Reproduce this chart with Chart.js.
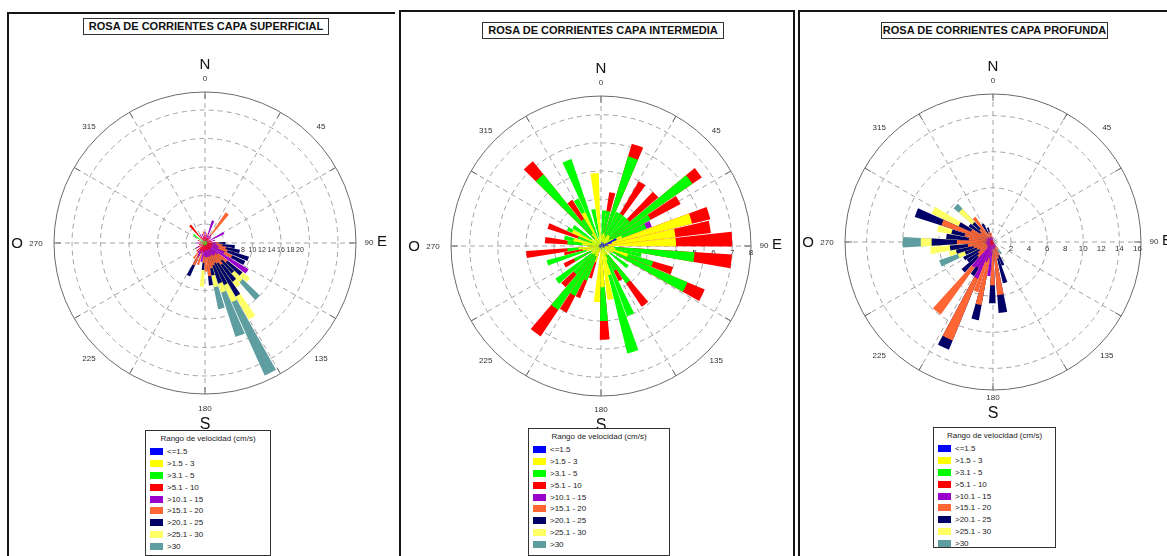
<!DOCTYPE html>
<html lang="es">
<head>
<meta charset="UTF-8">
<title>Rosas de corrientes</title>
<script src="https://cdn.jsdelivr.net/npm/chart.js"></script>
<style>
  *{box-sizing:border-box}
  body{margin:0;width:1167px;height:556px;overflow:hidden;position:relative;background:#fff;font-family:'Liberation Sans',Arial,sans-serif;color:#111}
  .panel{position:absolute;border:2px solid #151515}
  .title{position:absolute;border:1px solid #333;font-weight:bold;font-size:11px;line-height:15px;text-align:center;white-space:nowrap;background:#fff}
  canvas{position:absolute}
  .legend{position:absolute;border:1px solid #333;font-size:8px;background:#fff;color:#222}
  .legend h4{margin:3px 0 3px;font-size:8px;font-weight:normal;text-align:center}
  .legend div{display:flex;align-items:center;height:11.8px;padding-left:4px}
  .legend span{display:inline-block;width:13px;height:7px;margin-right:4px}
</style>
</head>
<body>
  <div class="panel" style="left:7px;top:12px;width:388px;height:600px;border-right:none"></div>
  <div class="panel" style="left:399px;top:10px;width:396px;height:600px"></div>
  <div class="panel" style="left:798px;top:10px;width:420px;height:600px"></div>

  <div class="title" style="left:83px;top:18px;width:246px;height:17px">ROSA DE CORRIENTES CAPA SUPERFICIAL</div>
  <div class="title" style="left:482px;top:22px;width:242px;height:17px">ROSA DE CORRIENTES CAPA INTERMEDIA</div>
  <div class="title" style="left:881px;top:22px;width:227px;height:17px">ROSA DE CORRIENTES CAPA PROFUNDA</div>

  <canvas id="sup" width="400" height="400" style="left:5px;top:43px"></canvas>
  <canvas id="mid" width="400" height="400" style="left:401px;top:46px"></canvas>
  <canvas id="deep" width="400" height="400" style="left:793px;top:42px"></canvas>

  <div class="legend" id="leg1" style="left:145px;top:430px;width:126px;height:126px"></div>
  <div class="legend" id="leg2" style="left:528px;top:428px;width:142px;height:128px"></div>
  <div class="legend" id="leg3" style="left:933px;top:427px;width:123px;height:121px"></div>

<script>
// velocity ranges (cm/s), stacked from the centre outwards
const binLabels = ['<=1.5', '>1.5 - 3', '>3.1 - 5', '>5.1 - 10', '>10.1 - 15', '>15.1 - 20', '>20.1 - 25', '>25.1 - 30', '>30'];
const binColors = ['#0000ff', '#ffff00', '#00ff00', '#ff0000', '#9900cc', '#ff6633', '#000066', '#ffff66', '#5f9ea0'];

// --- capa superficial ---
const supDirs   = [0, 10, 20, 28, 37, 47, 62, 75, 90, 97, 104, 110, 117, 124, 131, 136, 142, 148, 153, 159, 166, 172, 178, 184, 191, 198, 207, 216, 225, 240, 255, 270, 290, 306, 320, 330, 343, 352];
const supBlue   = [0, 0, 0, 0, 0, 0, 0, 0, 0, 0, 0, 0, 0, 0, 0, 0, 0, 0, 0, 0, 0, 0, 0, 0, 0, 0, 0, 0, 0, 0, 0, 0, 0, 0, 0, 0, 0, 0];
const supYellow = [.3, .2, .2, .2, .2, .2, .2, .2, .2, .2, .2, .2, .2, .2, .2, .2, .2, .2, .2, .2, .2, .2, .2, .2, .2, .2, .2, .2, .2, .2, .2, .3, .2, .2, .2, .2, .2, .2];
const supGreen  = [.4, .3, .3, .3, .3, .3, .3, .3, .3, .3, .3, .3, .3, .3, .3, .3, .3, .3, .3, .3, .3, .3, .3, .5, .3, .3, .3, .3, .3, .3, .3, .6, .8, 2.8, .3, .3, .3, .3];
const supRed    = [1, .7, .8, .6, .8, .7, .8, 1, 1, 1, 1, 1, 1, 1.2, 1, 1, 1.2, 1, 1, 1, 1, 1, 1, 1, 1.5, 1, 1.5, 1.2, 2, 1.2, .8, .5, .6, 0, 4.4, 1, .8, .5];
const supPurple = [.6, .5, 3.7, .5, .8, .6, 3.2, .7, .8, 1, 1.4, 1.5, 3, 9, 2, 1.5, 1.5, 1.5, 1.2, 1.5, 1.5, 1.5, 1.5, 1, 2, .8, 1.2, .8, 0, .5, 0, .5, 0, 0, 0, .5, .7, .5];
const supOrange = [0, .4, 0, .4, 5.7, 0, 0, 0, .6, 1.2, 1.6, 2, 1.8, 0, 2.5, 2, 2.5, 2, 2, 2, 2.5, 4, 3, 1.5, 0, 2.5, 2, 1.5, 0, 0, 0, 0, 0, 0, 0, 0, 0, 1];
const supNavy   = [0, 0, 0, 0, 0, 0, 0, 0, 1.4, 2.6, 3, 4.7, 3, 0, 4, 3.5, 4.3, 8, 5, 4, 1.5, 2, 0, 1.5, 0, 0, 2.5, 0, 0, 0, 0, 0, 0, 0, 0, 0, 0, 0];
const supCream  = [0, 0, 0, 0, 0, 0, 0, 0, 0, 0, 0, 0, 0, 0, 2, 2.5, 1.5, 5.6, 4, 2, 2.5, 0, 0, 3.5, 0, 0, 0, 0, 0, 0, 0, 0, 0, 0, 0, 0, 0, 0];
const supTeal   = [0, 0, 0, 0, 0, 0, 0, 0, 0, 0, 0, 0, 0, 0, 0, 5, 0, 0, 16.9, 9.8, 4.7, 0, 0, 0, 0, 0, 0, 0, 0, 0, 0, 0, 0, 0, 0, 0, 0, 0];
const supRings  = [4, 10, 16, 22, 28];
const supTicks  = [2, 4, 6, 8, 10, 12, 14, 16, 18, 20];

// --- capa intermedia ---
const midDirs   = [5, 12, 20, 27, 33, 40, 47, 53, 59, 66, 73, 80, 87, 97, 103, 109, 116, 128, 143, 150, 157, 163, 170, 178, 184, 199, 204, 210, 217, 224, 231, 242, 253, 258, 263, 276, 283, 291, 297, 305, 318, 325, 332, 338, 348, 355];
const midBlue   = [.2, .2, .2, .1, .2, .2, .2, .2, .2, .9, .6, .3, .4, .2, .2, .2, .2, .1, .1, 0, .1, .1, .1, .2, .1, .1, .1, .1, .1, .1, .1, .1, .1, .1, .1, .1, .1, .1, .1, .1, .1, .1, .1, .1, .1, .1];
const midYellow = [.4, .5, .4, .4, .5, .5, .4, .3, .5, .3, 4.4, 3.7, 3.6, .5, .6, 1.3, .5, .5, .5, .5, .7, 1.5, 2.8, 2, 2.9, .8, .5, .5, .4, .5, .5, .5, .7, .9, 1.1, .9, 1.4, .4, 1.6, .5, .4, .7, 1.9, .3, .4, 3.8];
const midGreen  = [1.3, 1.2, 4.4, 1.5, 1.3, 1.3, 1.4, 5.4, 2.3, 1.4, 0, 0, 0, 4.3, 1.4, 1.4, 4.3, 1.2, 1.8, 1, 3.2, 4.3, 0, 1.8, 0, 0, 1.4, 2.4, 3.6, 1.4, 2.4, 1, 2.2, 0, .6, .8, .5, .8, .3, 1.2, 4.4, .9, .8, 4.5, 1.5, 0];
const midRed    = [0, 1, .7, 0, 2, 0, 2, .6, 1.8, 0, 1, 1.9, 3, 2, 0, 1.1, 1, 0, 1.5, .6, 0, 0, 0, 1, 0, .9, 1, 1, 1.7, .9, 0, .6, 0, 1, 2.2, 1.2, 0, 1.7, 0, 0, .9, 1.2, 0, 0, 0, 0];
const midPurple = [0, 0, 0, 0, 0, 0, 0, 0, 0, .3, 0, 0, 0, 0, 0, 0, 0, 0, 0, 0, 0, 0, 0, 0, 0, 0, 0, 0, 0, 0, 0, 0, 0, 0, 0, 0, 0, 0, 0, 0, 0, 0, 0, 0, 0, 0];
const midRings  = [1, 2.5, 4, 5.5, 7];
const midTicks  = [1, 2, 3, 4, 5, 6, 7, 8];

// --- capa profunda ---
const deepDirs   = [145, 157, 163, 172, 181, 187, 193, 199, 205, 212, 219, 226, 233, 240, 248, 255, 262, 270, 277, 284, 291, 298, 306, 314, 322, 330, 340, 350, 358];
const deepRed    = [.3, .3, .3, .3, .3, .3, .4, .3, .4, .3, .5, .3, .3, .3, .3, .3, .3, .3, .3, .3, .3, .3, .3, .3, .3, .3, .3, .2, .2];
const deepPurple = [.3, .3, .4, .5, .4, 3.5, 1.5, 2, 4, 3, 3, .5, .5, .4, .4, .4, .5, .5, .4, .4, .5, .4, .4, .4, .3, .3, .3, .3, .3];
const deepOrange = [.4, 1, 1.2, 5.1, 4.1, 0, 5.2, 3.5, 7.4, 0, 6.4, 1.5, 1.2, 1, 1.2, 1.5, 2, 3.2, 2, 2.5, 5.2, 2, 1, 1.3, 2.8, .5, .6, .5, 0];
const deepNavy   = [0, 1.2, 2.8, 2, 2, 0, 1.7, 0, 1.1, 1, 0, 2.3, 1.5, 2, 1.4, 2, 2, 2.8, 2.5, 1.5, 3.1, 1.5, 1.5, 1, 0, 1.2, .5, 0, 0];
const deepCream  = [0, 0, 0, 0, 0, 0, 0, 0, 0, 0, 0, 0, 0, 0, .8, .8, 2.2, 1.2, 0, 1.6, 0, 3.3, 0, 2, 0, 0, 0, 0, 0];
const deepTeal   = [.6, 0, 0, 0, 0, 0, 0, 0, 0, 0, 0, 0, 0, 0, 2.2, 0, 0, 2, 0, 0, 0, 0, 0, .75, 0, 0, 0, 0, 0];
const deepRings  = [2, 6, 10, 14];
const deepTicks  = [2, 4, 6, 8, 10, 12, 14, 16];

const FONT = '"Liberation Sans", Arial, sans-serif';
const rad = d => d * Math.PI / 180;

// frame of the rose: dashed rings and spokes, outer circle, degree and compass labels
const roseFrame = {
  id: 'roseFrame',
  beforeDatasetsDraw(chart, args, o) {
    const s = chart.scales.r, ctx = chart.ctx;
    const cx = s.xCenter, cy = s.yCenter, R = s.drawingArea;
    ctx.save();
    ctx.strokeStyle = '#a3a3a3';
    ctx.lineWidth = 1;
    ctx.setLineDash([5, 4]);
    o.rings.forEach(v => {
      ctx.beginPath();
      ctx.arc(cx, cy, s.getDistanceFromCenterForValue(v), 0, 2 * Math.PI);
      ctx.stroke();
    });
    for (let a = 0; a < 360; a += 30) {
      ctx.beginPath();
      ctx.moveTo(cx, cy);
      ctx.lineTo(cx + R * Math.sin(rad(a)), cy - R * Math.cos(rad(a)));
      ctx.stroke();
    }
    ctx.setLineDash([]);
    ctx.strokeStyle = '#6a6a6a';
    ctx.beginPath();
    ctx.arc(cx, cy, R, 0, 2 * Math.PI);
    ctx.stroke();
    for (let a = 0; a < 360; a += 30) {
      const sn = Math.sin(rad(a)), cs = Math.cos(rad(a));
      ctx.beginPath();
      ctx.moveTo(cx + R * sn, cy - R * cs);
      ctx.lineTo(cx + (R - 7) * sn, cy - (R - 7) * cs);
      ctx.stroke();
    }
    // speed scale written along the east axis
    ctx.fillStyle = '#333';
    ctx.font = o.tickFont + 'px ' + FONT;
    ctx.textAlign = 'center';
    ctx.textBaseline = 'middle';
    o.ticks.forEach(v => ctx.fillText(String(v), cx + s.getDistanceFromCenterForValue(v), cy + 7));
    ctx.restore();
  },
  afterDraw(chart, args, o) {
    const s = chart.scales.r, ctx = chart.ctx;
    const cx = s.xCenter, cy = s.yCenter, R = s.drawingArea;
    const at = (deg, r) => [cx + r * Math.sin(rad(deg)), cy - r * Math.cos(rad(deg))];
    ctx.save();
    ctx.fillStyle = '#333';
    ctx.font = '8px ' + FONT;
    ctx.textAlign = 'center';
    ctx.textBaseline = 'middle';
    ctx.fillText('0', ...at(0, R + 13));
    [45, 135, 225, 315].forEach(d => ctx.fillText(String(d), ...at(d, R + 13)));
    ctx.fillText('180', ...at(180, R + o.sOff - 16));
    ctx.fillText('90', cx + R + 13, cy);
    ctx.fillText('270', cx - R - 18, cy + 1);
    ctx.fillStyle = '#111';
    ctx.font = '15px ' + FONT;
    ctx.fillText('N', cx, cy - R - 27);
    ctx.fillText('O', cx - R - 37, cy + 1);
    ctx.textAlign = 'left';
    ctx.fillText('E', cx + R + 21, cy - 1);
    ctx.textAlign = 'center';
    ctx.font = '16px ' + FONT;
    ctx.fillText('S', cx, cy + R + o.sOff);
    ctx.restore();
  }
};

function makeRose(id, dirs, bins, cfg) {
  const w = cfg.width, n = dirs.length;
  // each bar is w degrees wide, trimmed so that it never runs into its neighbours
  const spans = dirs.map((d, i) => {
    const prev = i > 0 ? dirs[i - 1] : dirs[n - 1] - 360;
    const next = i < n - 1 ? dirs[i + 1] : dirs[0] + 360;
    return [Math.max(d - w / 2, (prev + d) / 2 + 0.25), Math.min(d + w / 2, (d + next) / 2 - 0.25)];
  });
  const start = spans[0][0];
  const seq = [];
  let cursor = start;
  spans.forEach(([lo, hi], i) => {
    if (lo - cursor > 0.01) seq.push({ angle: lo - cursor, i: -1 });
    seq.push({ angle: hi - lo, i });
    cursor = hi;
  });
  if (start + 360 - cursor > 0.01) seq.push({ angle: start + 360 - cursor, i: -1 });

  const datasets = [];
  bins.forEach((vals, k) => {
    if (!vals) return;
    const data = seq.map(el => {
      if (el.i < 0 || !(vals[el.i] > 0)) return 0;
      let sum = 0;
      for (let j = 0; j <= k; j++) if (bins[j]) sum += bins[j][el.i];
      return sum;
    });
    datasets.push({
      label: binLabels[k],
      data,
      backgroundColor: binColors[k],
      borderWidth: 0,
      angle: ctx => seq[ctx.dataIndex].angle
    });
  });

  return new Chart(document.getElementById(id), {
    type: 'polarArea',
    data: { labels: seq.map((e, m) => String(m)), datasets },
    options: {
      responsive: false,
      animation: false,
      events: [],
      layout: { padding: 200 - cfg.radius },
      plugins: {
        legend: { display: false },
        tooltip: { enabled: false },
        roseFrame: { rings: cfg.rings, ticks: cfg.ticks, sOff: cfg.sOff, tickFont: cfg.tickFont }
      },
      scales: {
        r: {
          min: 0,
          max: cfg.max,
          startAngle: start,
          ticks: { display: false },
          grid: { display: false },
          angleLines: { display: false },
          pointLabels: { display: false }
        }
      }
    },
    plugins: [roseFrame]
  });
}

makeRose('sup', supDirs,
  [supBlue, supYellow, supGreen, supRed, supPurple, supOrange, supNavy, supCream, supTeal],
  { width: 6, radius: 151, max: 31.8, rings: supRings, ticks: supTicks, sOff: 31, tickFont: 7 });
makeRose('mid', midDirs,
  [midBlue, midYellow, midGreen, midRed, midPurple, null, null, null, null],
  { width: 6.5, radius: 150, max: 8, rings: midRings, ticks: midTicks, sOff: 30, tickFont: 8 });
makeRose('deep', deepDirs,
  [null, null, null, deepRed, deepPurple, deepOrange, deepNavy, deepCream, deepTeal],
  { width: 7, radius: 148, max: 16.4, rings: deepRings, ticks: deepTicks, sOff: 24, tickFont: 8 });

// legend boxes
['leg1', 'leg2', 'leg3'].forEach(id => {
  const box = document.getElementById(id);
  box.innerHTML = '<h4>Rango de velocidad (cm/s)</h4>' +
    binLabels.map((l, k) => `<div><span style="background:${binColors[k]}"></span>${l.replace('<', '&lt;')}</div>`).join('');
});
</script>
</body>
</html>
